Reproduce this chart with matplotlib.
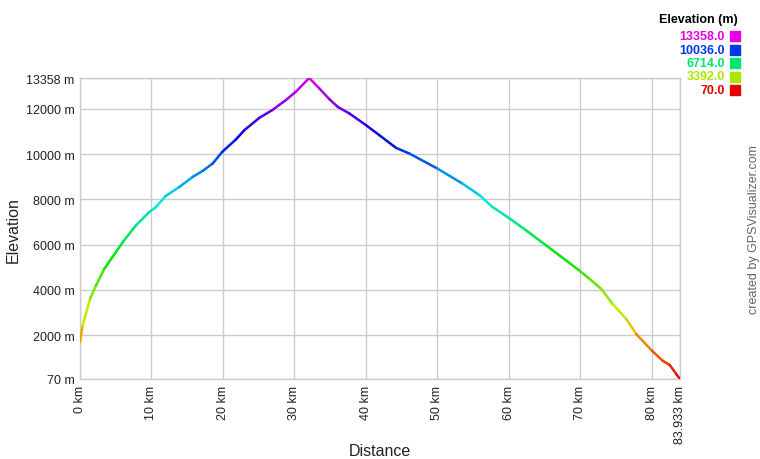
import numpy as np
import matplotlib
matplotlib.use('Agg')
import matplotlib.pyplot as plt
from matplotlib.collections import LineCollection
import colorsys

plt.rcParams['font.family'] = ['Liberation Sans', 'DejaVu Sans']

# distance (km) and elevation (m) read from the profile
dist_km = [0.0, 0.37, 1.4, 2.24, 3.4, 5.03, 6.06, 7.83, 9.7, 10.63, 12.0, 13.9,
           15.76, 17.16, 18.55, 19.9, 21.8, 23.0, 25.1, 26.9, 28.8, 30.2, 32.07,
           33.47, 34.87, 36.03, 37.67, 40.0, 41.87, 44.2, 46.07, 50.0, 53.5, 55.9,
           57.7, 60.0, 62.4, 65.2, 68.0, 69.96, 71.27, 72.9, 74.5, 76.4, 77.8,
           80.0, 81.5, 82.5, 83.4, 83.933]
elev_m = [1690, 2428, 3608, 4200, 4935, 5673, 6145, 6853, 7443, 7664, 8150, 8549,
          8991, 9257, 9581, 10098, 10644, 11057, 11602, 11941, 12384, 12753, 13358,
          12900, 12428, 12089, 11794, 11278, 10835, 10275, 10024, 9360, 8697, 8180,
          7664, 7177, 6632, 5968, 5304, 4832, 4493, 4050, 3387, 2723, 2059,
          1322, 879, 687, 289, 70]

y_ticks = [70, 2000, 4000, 6000, 8000, 10000, 12000, 13358]
x_ticks = [0, 10, 20, 30, 40, 50, 60, 70, 80, 83.933]
legend_vals = [13358.0, 10036.0, 6714.0, 3392.0, 70.0]

emin, emax = 70, 13358


def elev_color(e):
    f = (e - emin) / (emax - emin)
    return colorsys.hsv_to_rgb(300 / 360 * f, 1.0, 0.9)


fig = plt.figure(figsize=(7.6, 4.6), dpi=100)
ax = fig.add_axes([80 / 760, 1 - 380 / 460, 600 / 760, 301 / 460])

x = np.array(dist_km)
y = np.array(elev_m)
pts = np.column_stack([x, y]).reshape(-1, 1, 2)
segs = np.concatenate([pts[:-1], pts[1:]], axis=1)
cols = [elev_color((a + b) / 2) for a, b in zip(y[:-1], y[1:])]
lc = LineCollection(segs, colors=cols, linewidths=1.8, capstyle='round', zorder=3)
ax.add_collection(lc)

ax.set_xlim(0, 83.933)
ax.set_ylim(emin, emax)
ax.set_yticks(y_ticks)
ax.set_yticklabels([f'{v} m' for v in y_ticks], fontsize=9)
ax.set_xticks(x_ticks)
ax.set_xticklabels([f'{v:g} km' for v in x_ticks], rotation=90, fontsize=9)
ax.tick_params(length=0, pad=4, colors='#222222')
ax.grid(True, color='#cccccc', linewidth=1)
for s in ax.spines.values():
    s.set_color('#cccccc')
    s.set_linewidth(1)

fig.text(13 / 760, 1 - 230 / 460, 'Elevation', rotation=90, ha='center',
         va='center', fontsize=11.5, color='#222222')
fig.text(380 / 760, 1 - 452 / 460, 'Distance', ha='center', va='center',
         fontsize=11.5, color='#222222')

# legend
fig.text(738 / 760, 1 - 20 / 460, 'Elevation (m)', ha='right', va='center',
         fontsize=9, fontweight='bold', color='black')
for i, v in enumerate(legend_vals):
    yy = 1 - (37 + 13.5 * i) / 460
    c = elev_color(v)
    fig.text(725 / 760, yy, f'{v:.1f}', ha='right', va='center', fontsize=9,
             fontweight='bold', color=c)
    fig.patches.append(plt.Rectangle((730 / 760, yy - 5 / 460), 10 / 760, 10 / 460,
                                     transform=fig.transFigure, color=c))

fig.text(754 / 760, 1 - 230 / 460, 'created by GPSVisualizer.com', rotation=90,
         ha='center', va='center', fontsize=9, color='#666666')

fig.savefig('out.png', dpi=100)
